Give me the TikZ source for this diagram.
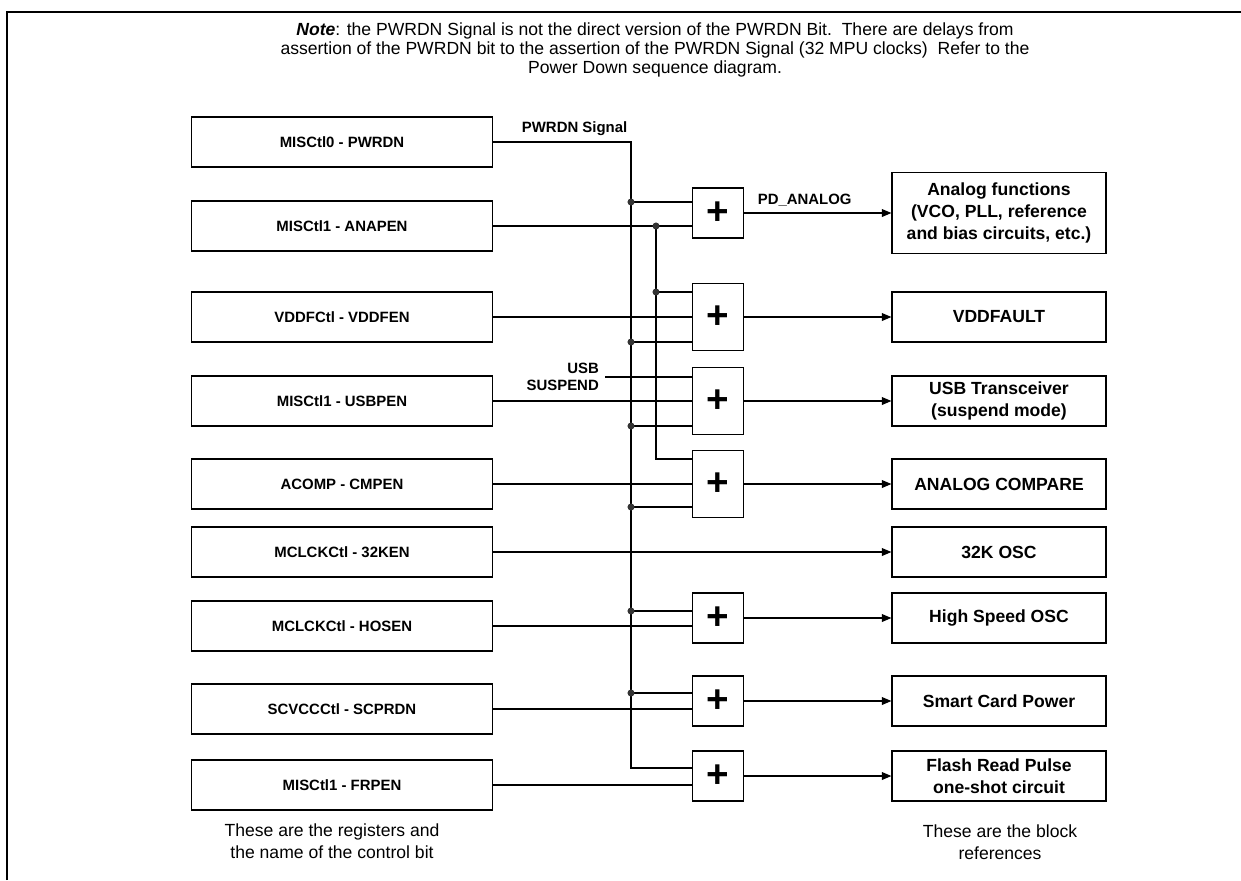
\documentclass[tikz,border=0pt]{standalone}
\usepackage{fontspec}
\setmainfont{Liberation Sans}
\usetikzlibrary{arrows.meta}

\begin{document}
\begin{tikzpicture}[x=0.02cm, y=-0.02cm,
    regbox/.style={draw, line width=1.1pt, minimum width=6.02cm, minimum height=1cm, inner sep=0pt, font=\fontsize{8.5}{10}\selectfont\bfseries},
    orgate/.style={draw, line width=1.1pt, minimum width=1.02cm, minimum height=1cm, inner sep=0pt, font=\fontsize{22}{22}\selectfont\bfseries},
    blockbox/.style={draw, line width=0.7pt, minimum width=4.28cm, minimum height=1cm, inner sep=0pt, align=center, font=\fontsize{10}{12.4}\selectfont\bfseries},
    wire/.style={line width=0.6pt},
    sig/.style={wire, -{Triangle[length=5.5pt, width=4.5pt]}},
    lbl/.style={font=\fontsize{8.5}{10}\selectfont\bfseries}]
    \useasboundingbox (0,0) rectangle (1241,880);
    \draw[line width=1.2pt] (7,880) -- (7,12) -- (1241,12);

    % Nota
    \node[align=center, font=\fontsize{10}{11}\selectfont] (note) at (655,50) {\textbf{\textit{Note}}: the PWRDN Signal is not the direct version of the PWRDN Bit.\ \ There are delays from\\assertion of the PWRDN bit to the assertion of the PWRDN Signal (32 MPU clocks)\ \ Refer to the\\Power Down sequence diagram.};

    % Registros
    \node[regbox] (misc0) at (342,142) {MISCtl0 - PWRDN};
    \node[regbox] (anapen) at (342,226) {MISCtl1 - ANAPEN};
    \node[regbox] (vddfen) at (342,317) {VDDFCtl - VDDFEN};
    \node[regbox] (usbpen) at (342,401) {MISCtl1 - USBPEN};
    \node[regbox] (cmpen) at (342,484) {ACOMP - CMPEN};
    \node[regbox] (khz) at (342,552) {MCLCKCtl - 32KEN};
    \node[regbox] (hosen) at (342,626) {MCLCKCtl - HOSEN};
    \node[regbox] (scprdn) at (342,709) {SCVCCCtl - SCPRDN};
    \node[regbox] (frpen) at (342,785) {MISCtl1 - FRPEN};

    % Puertas
    \node[orgate] (g1) at (718,213) {+};
    \node[orgate, minimum height=1.34cm] (g2) at (718,317) {+};
    \node[orgate, minimum height=1.34cm] (g3) at (718,401) {+};
    \node[orgate, minimum height=1.34cm] (g4) at (718,484) {+};
    \node[orgate] (g5) at (718,618) {+};
    \node[orgate] (g6) at (718,701) {+};
    \node[orgate] (g7) at (718,776) {+};

    % Bloques
    \node[blockbox, minimum height=1.62cm] (analog) at (999,213) {Analog functions\\(VCO, PLL, reference\\and bias circuits, etc.)};
    \node[blockbox] (vddfault) at (999,317) {VDDFAULT};
    \node[blockbox] (usbx) at (999,401) {USB Transceiver\\(suspend mode)};
    \node[blockbox] (acomp) at (999,484) {ANALOG COMPARE};
    \node[blockbox] (osc32) at (999,552) {32K OSC};
    \node[blockbox] (hsosc) at (999,618) {High Speed OSC};
    \node[blockbox] (scpow) at (999,701) {Smart Card Power};
    \node[blockbox] (flash) at (999,776) {Flash Read Pulse\\one-shot circuit};

    % Buses
    \coordinate (pd) at (631,142);
    \coordinate (pdend) at (631,768);
    \coordinate (pd1) at (631,202);
    \coordinate (pd2) at (631,342);
    \coordinate (pd3) at (631,426);
    \coordinate (pd4) at (631,507);
    \coordinate (pd5) at (631,611);
    \coordinate (pd6) at (631,693);
    \coordinate (an) at (656,226);
    \coordinate (an2) at (656,292);
    \coordinate (anend) at (656,459);

    \draw[wire] (misc0.east) -- node[lbl, above, pos=0.59] (pdlbl) {PWRDN Signal} (pd) -- (pdend) -- (pdend -| g7.west);
    \draw[wire] (anapen.east) -- (anapen.east -| g1.west);
    \draw[wire] (an) -- (anend) -- (anend -| g4.west);
    \foreach \d/\g in {pd1/g1, pd2/g2, pd3/g3, pd4/g4, pd5/g5, pd6/g6, an2/g2}
        \draw[wire] (\d) -- (\d -| \g.west);
    \foreach \r/\g in {vddfen/g2, usbpen/g3, cmpen/g4, hosen/g5, scprdn/g6, frpen/g7}
        \draw[wire] (\r.east) -- (\r.east -| \g.west);
    \foreach \d in {pd1, pd2, pd3, pd4, pd5, pd6, an, an2}
        \fill[black!80] (\d) circle (2pt);

    \node[lbl, align=right, anchor=east] (usbsus) at (605,377) {USB\\SUSPEND};
    \draw[wire] (usbsus.east) -- (usbsus.east -| g3.west);

    % Salidas
    \draw[sig] (g1.east) -- node[lbl, above, pos=0.41] (pdan) {PD\_ANALOG} (analog.west);
    \foreach \g/\b in {g2/vddfault, g3/usbx, g4/acomp, g5/hsosc, g6/scpow, g7/flash}
        \draw[sig] (\g.east) -- (\b.west);
    \draw[sig] (khz.east) -- (osc32.west);

    \node[align=center, font=\fontsize{10}{12.4}\selectfont] (regnote) at (332,841) {These are the registers and\\the name of the control bit};
    \node[align=center, font=\fontsize{10}{12.4}\selectfont] (blknote) at (1000,842) {These are the block\\references};
\end{tikzpicture}
\end{document}
